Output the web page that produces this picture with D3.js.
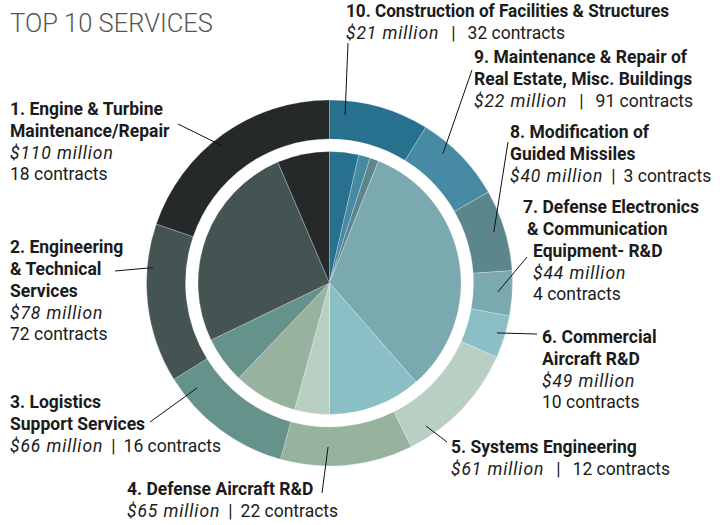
<!DOCTYPE html>
<html>
<head>
<meta charset="utf-8">
<script src="https://cdn.jsdelivr.net/npm/d3@7"></script>
<style>
body { margin: 0; background: #fff; }
svg { display: block; font-family: Roboto, "Liberation Sans", sans-serif; }
</style>
</head>
<body>
<svg id="canvas" width="720" height="525"></svg>
<script>
// services, in rank order 1..10
const names = [
    ["Engine & Turbine", "Maintenance/Repair"],
    ["Engineering", "& Technical", "Services"],
    ["Logistics", "Support Services"],
    ["Defense Aircraft R&D"],
    ["Systems Engineering"],
    ["Commercial", "Aircraft R&D"],
    ["Defense Electronics", "& Communication", "Equipment- R&D"],
    ["Modification of", "Guided Missiles"],
    ["Maintenance & Repair of", "Real Estate, Misc. Buildings"],
    ["Construction of Facilities & Structures"]
];
const millions = [110, 78, 66, 65, 61, 49, 44, 40, 22, 21];
const contracts = [18, 72, 16, 22, 12, 10, 4, 3, 91, 32];

// wedges as printed, clockwise from 12 o'clock -> which service fills each one
const wedgeService = [5, 6, 7, 8, 9, 4, 3, 2, 1, 0];
const wedgeColors = ["#27708e", "#468ba3", "#5b868c", "#7aa9b0", "#8bbfc6",
                     "#b9cfc4", "#97b3a0", "#65928b", "#435452", "#252929"];

// label placement (first baseline), how the money/contracts lines go, leader ends
const labelX = [10, 10, 10, 127, 451, 542, 523, 510, 474, 346];
const labelY = [115, 253, 408, 495, 453, 343, 213, 138, 63, 17];
const lineIndent = [[0], [0], [0], [0], [0], [0], [0, 4, 10], [0], [0], [0]];
const inline = [false, false, true, true, true, false, false, true, true, true];
const wideBar = [false, false, false, false, true, false, false, false, true, true];
const squeeze = [null, null, null, null, null, null, null, null, null, 323]; // label 10 is set condensed
const leaderFrom = [[178, 124], [115, 271], [150, 422], [322, 493], [447, 442],
                    [537, 334], [527, 257], [508, 142], [472, 70], [348, 43]];
const leaderAngle = [322, 275, 231.6, 180.5, 146, 106.6, 93, 72.8, 41.3, 5.3];
const leaderRadius = [174, 177, 169, 164, 172.5, 174.8, 168.7, 172, 171.6, 168.7];

const cx = 329.5, cy = 283;
const svg = d3.select("svg#canvas");

svg.append("text")
    .attr("x", 10)
    .attr("y", 32)
    .attr("font-size", 25.5)
    .attr("font-weight", 300)
    .attr("fill", "#555")
    .text("TOP 10 SERVICES");

const g = svg.append("g").attr("transform", `translate(${cx},${cy})`);

const pie = d3.pie().sort(null).value(d => d.v);
const rad = d => d * Math.PI / 180;

const ringData = pie(wedgeService.map((s, i) => ({v: millions[s], slot: i})));
const coreData = pie(wedgeService.map((s, i) => ({v: contracts[s], slot: i})));

g.selectAll("path.ring")
    .data(ringData)
    .join("path")
    .attr("class", "ring")
    .attr("d", d3.arc().innerRadius(144).outerRadius(183))
    .attr("fill", d => wedgeColors[d.data.slot])
    .attr("stroke", "rgba(255,255,255,0.35)")
    .attr("stroke-width", 0.7);

g.selectAll("path.core")
    .data(coreData)
    .join("path")
    .attr("class", "core")
    .attr("d", d3.arc().innerRadius(0).outerRadius(131.5))
    .attr("fill", d => wedgeColors[d.data.slot])
    .attr("stroke", "rgba(255,255,255,0.35)")
    .attr("stroke-width", 0.7);

// leader lines
svg.selectAll("line.leader")
    .data(names)
    .join("line")
    .attr("class", "leader")
    .attr("x1", (_, i) => leaderFrom[i][0])
    .attr("y1", (_, i) => leaderFrom[i][1])
    .attr("x2", (_, i) => cx + d3.pointRadial(rad(leaderAngle[i]), leaderRadius[i])[0])
    .attr("y2", (_, i) => cy + d3.pointRadial(rad(leaderAngle[i]), leaderRadius[i])[1])
    .attr("stroke", "#111")
    .attr("stroke-width", 1);

// labels
const lh = 22;
const labels = svg.selectAll("g.label")
    .data(names)
    .join("g")
    .attr("class", "label")
    .attr("transform", (_, i) => `translate(${labelX[i]},${labelY[i]})`)
    .attr("fill", "#1b1b1b")
    .attr("font-size", 17.5);

labels.each(function (lines, i) {
    const el = d3.select(this);
    lines.forEach((t, j) => {
        const tx = el.append("text")
            .attr("x", lineIndent[i][j] || 0)
            .attr("y", j * lh)
            .attr("font-weight", 700)
            .text(j === 0 ? `${i + 1}. ${t}` : t);
        if (squeeze[i]) tx.attr("textLength", squeeze[i]).attr("lengthAdjust", "spacingAndGlyphs");
    });
    const ind = lineIndent[i][lineIndent[i].length - 1];
    const n = lines.length;
    if (inline[i]) {
        const gap = wideBar[i] ? 12 : 8;
        const tx = el.append("text").attr("x", ind).attr("y", n * lh);
        tx.append("tspan").attr("font-style", "italic").attr("letter-spacing", 0.9)
            .text(`$${millions[i]} million`);
        tx.append("tspan").attr("dx", gap).text("|");
        tx.append("tspan").attr("dx", gap).text(`${contracts[i]} contracts`);
    } else {
        el.append("text").attr("x", ind).attr("y", n * lh)
            .attr("font-style", "italic").attr("letter-spacing", 0.9)
            .text(`$${millions[i]} million`);
        el.append("text").attr("x", ind).attr("y", (n + 1) * lh - 1)
            .text(`${contracts[i]} contracts`);
    }
});
</script>
</body>
</html>
